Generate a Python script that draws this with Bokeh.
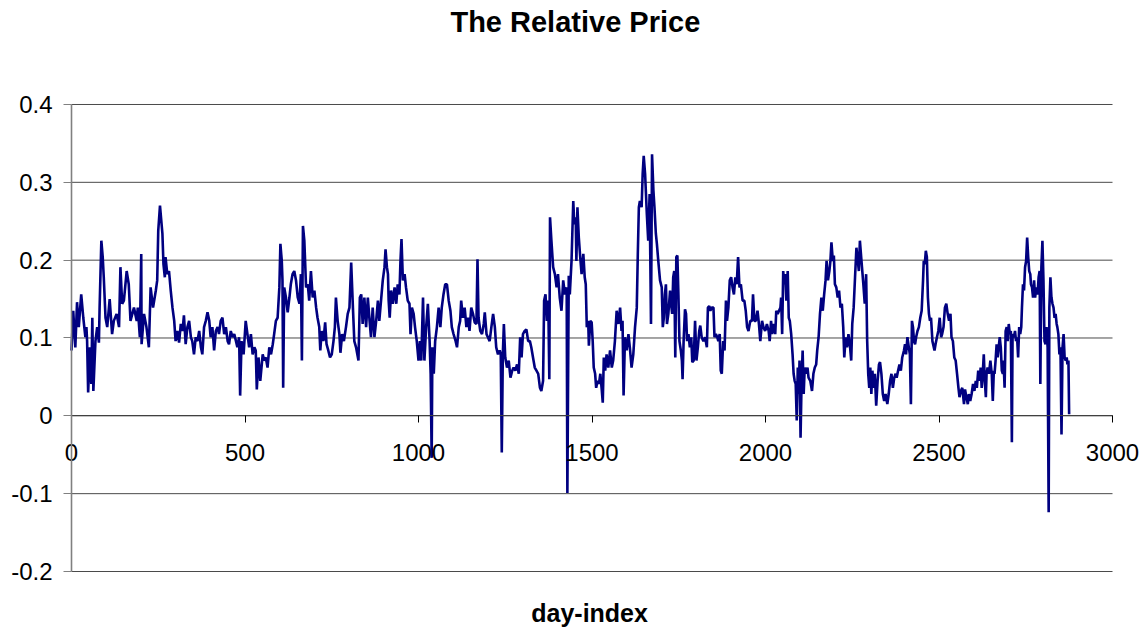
from bokeh.plotting import figure
from bokeh.models import Range1d, FixedTicker, CustomJSTickFormatter, Label
from bokeh.embed import file_html
from bokeh.resources import INLINE

# (day, relative price) readings, segment by segment
seg1 = [(0,0.084),(5,0.135),(11,0.088),(16,0.146),(21,0.114),(28,0.156),(34,0.126),(40,0.101),(43,0.114),(45,0.096),(48,0.030),(53,0.088),(57,0.041),(60,0.126),(63,0.032),(69,0.096),(74,0.114),(79,0.094),(81,0.139),(86,0.225),(90,0.204),(93,0.178),(98,0.126),(103,0.114),(110,0.150),(117,0.105),(122,0.122),(130,0.131),(137,0.114),(141,0.191),(146,0.144),(151,0.148),(159,0.186),(165,0.169),(170,0.122),(180,0.139),(188,0.122),(191,0.139),(197,0.101),(201,0.208),(202,0.092),(209,0.131),(216,0.114),(223,0.088),(228,0.165),(235,0.139),(243,0.161),(247,0.174),(250,0.238),(255,0.270)]
seg2 = [(262,0.234),(265,0.195),(269,0.178),(271,0.204),(276,0.182),(281,0.186),(286,0.161),(291,0.139),(296,0.122),(300,0.096),(305,0.109),(310,0.094),(315,0.118),(320,0.109),(324,0.129),(329,0.092),(334,0.114),(339,0.122),(344,0.101),(348,0.096),(353,0.079),(358,0.101),(363,0.096),(368,0.109),(373,0.088),(377,0.079),(382,0.114),(387,0.122),(392,0.133),(397,0.122),(401,0.101),(406,0.114),(411,0.084),(416,0.109),(421,0.114),(425,0.105),(430,0.122),(435,0.126),(440,0.105),(445,0.114),(450,0.096),(454,0.092),(459,0.109),(464,0.101),(469,0.105),(474,0.096),(478,0.088),(483,0.101),(486,0.026),(490,0.096),(496,0.079),(502,0.122),(507,0.105),(512,0.088),(517,0.105),(522,0.079),(527,0.088),(531,0.084),(534,0.034),(539,0.075),(544,0.045)]
seg3 = [(551,0.079),(555,0.071),(560,0.075),(565,0.062),(570,0.088),(575,0.079),(580,0.092),(584,0.105),(589,0.122),(594,0.126),(599,0.165),(602,0.221),(606,0.199),(608,0.174),(610,0.036),(613,0.165),(618,0.152),(623,0.133),(628,0.152),(632,0.169),(637,0.182),(642,0.186),(647,0.174),(652,0.152),(657,0.144),(661,0.182),(664,0.071),(667,0.244),(671,0.225),(676,0.165),(681,0.169),(685,0.148),(690,0.186),(695,0.152),(700,0.161),(705,0.139),(709,0.126),(714,0.114),(717,0.084),(721,0.109),(726,0.096),(731,0.120),(735,0.092),(740,0.084),(745,0.075),(750,0.079),(755,0.096),(759,0.114),(762,0.152),(767,0.122),(772,0.105),(775,0.081),(780,0.105),(785,0.096),(791,0.114),(796,0.131),(801,0.139),(806,0.197),(811,0.139),(815,0.096),(820,0.088),(827,0.071),(831,0.152)]
seg4 = [(835,0.156),(839,0.118),(844,0.152),(849,0.114),(854,0.152),(859,0.122),(863,0.101),(868,0.139),(873,0.101),(878,0.122),(883,0.148),(887,0.122),(892,0.148),(897,0.174),(902,0.191),(905,0.214),(909,0.191),(912,0.182),(914,0.148),(917,0.126),(921,0.161),(926,0.144),(931,0.165),(936,0.144),(940,0.169),(945,0.156),(948,0.199),(951,0.227),(955,0.174),(960,0.182),(964,0.165),(969,0.148),(974,0.144),(977,0.105),(981,0.139),(986,0.131),(990,0.114),(995,0.096),(1000,0.071),(1004,0.096),(1008,0.071),(1013,0.152),(1017,0.071),(1022,0.114),(1027,0.144),(1032,0.096),(1035,0.054),(1038,-0.054),(1040,0.088),(1044,0.054),(1048,0.096),(1053,0.114),(1058,0.139),(1063,0.114),(1067,0.139),(1072,0.156),(1077,0.169),(1082,0.169),(1087,0.148),(1092,0.135),(1096,0.114),(1101,0.105),(1107,0.096),(1111,0.088),(1116,0.114),(1120,0.122)]
seg5 = [(1123,0.148),(1128,0.126),(1133,0.139),(1138,0.114),(1143,0.126),(1147,0.109),(1152,0.139),(1157,0.131),(1162,0.120),(1167,0.118),(1170,0.201),(1173,0.126),(1178,0.109),(1183,0.105),(1188,0.118),(1191,0.133),(1196,0.105),(1200,0.101),(1205,0.096),(1210,0.114),(1215,0.131),(1220,0.114),(1224,0.088),(1229,0.079),(1234,0.084),(1237,0.079),(1240,-0.047),(1243,0.079),(1246,0.118),(1250,0.075),(1255,0.062),(1260,0.071),(1265,0.049),(1270,0.058),(1274,0.062),(1279,0.058),(1284,0.066),(1289,0.054),(1293,0.101),(1297,0.075),(1301,0.105),(1306,0.109),(1311,0.111),(1316,0.096),(1321,0.096),(1325,0.088),(1330,0.075),(1335,0.062),(1340,0.058),(1345,0.054),(1350,0.036),(1354,0.032),(1359,0.045),(1362,0.148),(1366,0.156),(1370,0.122),(1374,0.148),(1377,0.047),(1379,0.255),(1383,0.225),(1388,0.191),(1393,0.182),(1398,0.165),(1402,0.182),(1407,0.152),(1412,0.135),(1417,0.174),(1422,0.156),(1427,0.165),(1429,-0.099)]
seg6 = [(1433,0.180),(1436,0.156),(1441,0.199),(1446,0.276),(1449,0.246),(1453,0.255),(1455,0.199),(1458,0.268),(1462,0.229),(1466,0.204),(1470,0.182),(1475,0.208),(1479,0.178),(1482,0.169),(1485,0.114),(1489,0.122),(1491,0.090),(1495,0.122),(1499,0.120),(1502,0.096),(1505,0.062),(1509,0.054),(1512,0.036),(1516,0.045),(1520,0.041),(1524,0.054),(1528,0.034),(1531,0.017),(1534,0.075),(1538,0.058),(1542,0.079),(1547,0.062),(1552,0.084),(1557,0.062),(1561,0.071),(1566,0.096),(1571,0.135),(1576,0.118),(1581,0.139),(1585,0.109),(1588,0.122),(1591,0.026),(1595,0.101),(1600,0.084),(1605,0.105),(1609,0.088),(1614,0.062),(1619,0.079),(1624,0.114),(1629,0.139),(1632,0.208),(1635,0.268),(1638,0.276),(1643,0.268),(1646,0.311),(1649,0.334),(1653,0.311),(1658,0.259),(1662,0.225),(1666,0.285),(1670,0.118),(1673,0.336),(1677,0.289),(1680,0.268),(1684,0.234),(1687,0.221),(1691,0.199),(1696,0.174),(1701,0.165)]
seg7 = [(1704,0.114),(1707,0.126),(1710,0.156),(1713,0.169),(1716,0.118),(1720,0.131),(1725,0.161),(1728,0.144),(1731,0.131),(1734,0.178),(1737,0.186),(1740,0.075),(1743,0.204),(1746,0.206),(1749,0.156),(1752,0.096),(1756,0.084),(1759,0.071),(1761,0.047),(1764,0.096),(1768,0.137),(1771,0.131),(1774,0.096),(1778,0.105),(1782,0.088),(1786,0.101),(1789,0.069),(1793,0.071),(1797,0.122),(1801,0.071),(1805,0.088),(1809,0.109),(1812,0.116),(1816,0.101),(1821,0.096),(1826,0.101),(1831,0.088),(1834,0.139),(1838,0.141),(1841,0.135),(1845,0.139),(1850,0.139),(1853,0.101),(1857,0.105),(1861,0.101),(1864,0.096),(1868,0.105),(1871,0.058),(1874,0.054),(1878,0.096),(1882,0.084),(1886,0.148),(1889,0.122),(1893,0.139),(1897,0.174),(1901,0.178),(1905,0.165),(1909,0.156),(1913,0.178),(1917,0.169),(1921,0.204),(1925,0.165),(1929,0.169),(1934,0.148),(1939,0.148),(1943,0.135),(1947,0.114),(1951,0.109),(1956,0.122),(1961,0.122),(1964,0.156),(1968,0.122),(1972,0.122),(1977,0.135),(1981,0.118),(1985,0.096)]
seg8 = [(1990,0.122),(1994,0.114),(1999,0.109),(2004,0.118),(2009,0.109),(2012,0.096),(2016,0.122),(2019,0.105),(2023,0.118),(2028,0.105),(2031,0.135),(2035,0.131),(2039,0.135),(2043,0.139),(2045,0.152),(2048,0.105),(2051,0.186),(2054,0.169),(2057,0.182),(2060,0.148),(2064,0.186),(2067,0.126),(2070,0.122),(2074,0.105),(2078,0.079),(2081,0.054),(2084,0.045),(2087,0.041),(2090,-0.006),(2093,0.062),(2096,0.028),(2098,0.071),(2101,-0.028),(2104,0.045),(2107,0.084),(2110,0.028),(2113,0.062),(2117,0.054),(2121,0.062),(2124,0.049),(2129,0.045),(2134,0.032),(2138,0.054),(2142,0.062),(2146,0.066),(2149,0.084),(2153,0.101),(2157,0.131),(2161,0.152),(2165,0.135),(2169,0.156),(2173,0.174),(2176,0.199),(2180,0.174),(2184,0.186),(2187,0.199),(2190,0.223),(2194,0.199),(2197,0.206),(2200,0.169),(2204,0.165),(2208,0.152),(2212,0.161),(2216,0.139),(2220,0.144),(2224,0.114),(2227,0.075),(2231,0.101),(2235,0.088),(2239,0.105),(2243,0.092),(2247,0.071),(2250,0.118),(2254,0.139),(2258,0.178),(2262,0.216),(2266,0.199),(2269,0.186),(2272,0.225),(2275,0.208),(2278,0.191),(2282,0.169),(2286,0.144),(2290,0.182),(2293,0.096)]
seg9 = [(2296,0.054),(2299,0.036),(2302,0.062),(2305,0.028),(2308,0.058),(2312,0.036),(2315,0.054),(2319,0.013),(2323,0.045),(2327,0.066),(2330,0.069),(2334,0.054),(2338,0.028),(2342,0.019),(2346,0.028),(2351,0.015),(2355,0.028),(2359,0.045),(2363,0.054),(2367,0.036),(2371,0.049),(2375,0.054),(2378,0.049),(2382,0.058),(2386,0.066),(2390,0.058),(2394,0.075),(2399,0.084),(2402,0.092),(2405,0.079),(2409,0.101),(2413,0.088),(2416,0.079),(2419,0.015),(2422,0.122),(2425,0.114),(2428,0.096),(2431,0.092),(2434,0.101),(2438,0.109),(2442,0.114),(2446,0.126),(2450,0.135),(2454,0.174),(2456,0.199),(2459,0.195),(2462,0.212),(2465,0.204),(2468,0.152),(2471,0.131),(2474,0.122),(2477,0.126),(2481,0.096),(2483,0.092),(2487,0.084),(2490,0.092),(2494,0.101),(2498,0.109),(2502,0.126),(2506,0.101),(2509,0.105),(2513,0.114),(2517,0.139),(2521,0.144),(2525,0.131),(2529,0.122),(2533,0.131),(2536,0.101),(2540,0.096),(2544,0.075),(2548,0.071),(2552,0.054),(2556,0.036),(2559,0.024),(2563,0.032)]
seg10 = [(2567,0.036),(2572,0.015),(2575,0.034),(2579,0.024),(2583,0.015),(2586,0.028),(2590,0.019),(2594,0.028),(2598,0.041),(2602,0.032),(2606,0.045),(2609,0.036),(2613,0.058),(2617,0.045),(2620,0.062),(2623,0.036),(2626,0.054),(2629,0.079),(2632,0.045),(2635,0.024),(2637,0.054),(2640,0.062),(2644,0.054),(2648,0.071),(2652,0.054),(2655,0.019),(2658,0.058),(2660,0.054),(2663,0.071),(2666,0.092),(2669,0.075),(2672,0.088),(2675,0.101),(2678,0.088),(2681,0.058),(2684,0.054),(2686,0.071),(2689,0.036),(2692,0.109),(2695,0.114),(2698,0.096),(2701,0.118),(2704,0.105),(2707,0.109),(2710,-0.034),(2712,0.105),(2716,0.101),(2719,0.109),(2722,0.096),(2725,0.101),(2728,0.075),(2731,0.114),(2734,0.105),(2737,0.114),(2739,0.139),(2742,0.169),(2745,0.161),(2748,0.191),(2751,0.199),(2754,0.229),(2757,0.204),(2760,0.186),(2763,0.182),(2765,0.169),(2768,0.165),(2771,0.152),(2774,0.174),(2777,0.152),(2780,0.165),(2784,0.156),(2787,0.178),(2790,0.186),(2792,0.041),(2795,0.191),(2798,0.225),(2801,0.174),(2804,0.096),(2807,0.092),(2810,0.114),(2813,0.088),(2816,-0.124),(2818,0.139),(2821,0.178),(2824,0.152),(2827,0.144),(2830,0.139),(2833,0.126),(2836,0.131),(2839,0.118),(2841,0.114),(2844,0.105),(2847,0.079),(2850,0.088),(2853,-0.024),(2856,0.088),(2859,0.105),(2862,0.075),(2865,0.071),(2868,0.075),(2870,0.066),(2873,0.071),(2875,0.002)]

x_ticks = [0, 500, 1000, 1500, 2000, 2500, 3000]
y_ticks = [-0.2, -0.1, 0, 0.1, 0.2, 0.3, 0.4]
title_text = "The Relative Price"
x_label = "day-index"

readings = seg1 + seg2 + seg3 + seg4 + seg5 + seg6 + seg7 + seg8 + seg9 + seg10
day = [d for d, _ in readings]
price = [v for _, v in readings]

FONT = "Liberation Sans"

# The frame covers the whole canvas; the chart area is 0..3000 x -0.2..0.4 inside it.
p = figure(width=1148, height=630, output_backend="svg", toolbar_location=None,
           x_range=Range1d(-204.6, 3103.7), y_range=Range1d(-0.2758, 0.5336),
           min_border_left=0, min_border_right=0, min_border_top=0, min_border_bottom=0)
p.outline_line_color = None
p.background_fill_color = "white"
p.border_fill_color = "white"
p.xgrid.visible = False
p.ygrid.visible = False

# horizontal gridlines across the chart area, one per y tick
n = len(y_ticks)
p.segment(x0=[x_ticks[0]] * n, x1=[x_ticks[-1]] * n, y0=y_ticks, y1=y_ticks,
          line_color="#4a4a4a", line_width=1)

p.line(day, price, line_color="#000080", line_width=2.6)

# y axis at day 0
ya = p.yaxis[0]
ya.fixed_location = 0
ya.bounds = (y_ticks[0], y_ticks[-1])
ya.ticker = FixedTicker(ticks=y_ticks)
ya.formatter = CustomJSTickFormatter(code="""
var s = tick.toFixed(1);
if (s == "0.0" || s == "-0.0") { return "0"; }
return s;
""")
ya.axis_line_color = "#808080"
ya.axis_line_width = 1.6
ya.major_tick_line_color = "#808080"
ya.major_tick_out = 8
ya.major_tick_in = 0
ya.minor_tick_line_color = None
ya.major_label_text_font = FONT
ya.major_label_text_font_size = "24px"
ya.major_label_text_color = "black"
ya.major_label_standoff = 11

# x axis crossing at zero
xa = p.xaxis[0]
xa.fixed_location = 0
xa.bounds = (x_ticks[0], x_ticks[-1])
xa.ticker = FixedTicker(ticks=x_ticks)
xa.axis_line_color = "#404040"
xa.axis_line_width = 1
xa.major_tick_line_color = "black"
xa.major_tick_out = 7
xa.major_tick_in = 0
xa.minor_tick_line_color = None
xa.major_label_text_font = FONT
xa.major_label_text_font_size = "24px"
xa.major_label_text_color = "black"
xa.major_label_standoff = 21

# title and axis label
p.add_layout(Label(x=1452, y=0.5054, text=title_text, text_font=FONT, text_font_size="29px",
                   text_font_style="bold", text_align="center", text_baseline="middle",
                   text_color="black"))
p.add_layout(Label(x=1493, y=-0.2527, text=x_label, text_font=FONT, text_font_size="25px",
                   text_font_style="bold", text_align="center", text_baseline="middle",
                   text_color="black"))

open("out.html", "w").write(file_html(p, INLINE))
